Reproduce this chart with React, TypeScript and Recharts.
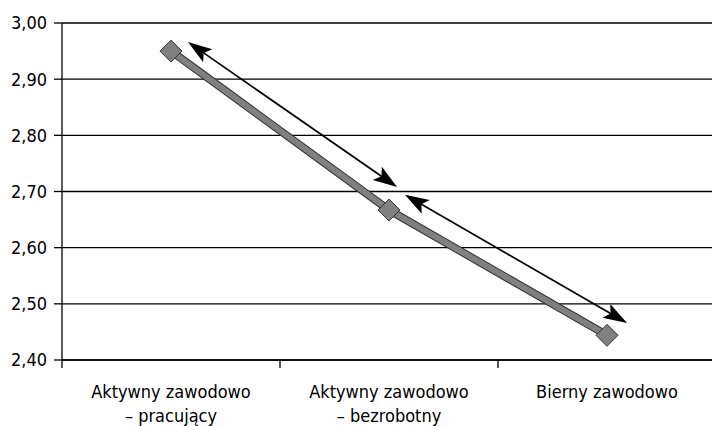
import React from 'react';
import { LineChart, Line, XAxis, YAxis, CartesianGrid, ReferenceLine } from 'recharts';

const categories: string[][] = [
  ['Aktywny zawodowo', '– pracujący'],
  ['Aktywny zawodowo', '– bezrobotny'],
  ['Bierny zawodowo'],
];
const values: number[] = [2.95, 2.667, 2.444];
const yTicks: number[] = [2.4, 2.5, 2.6, 2.7, 2.8, 2.9, 3.0];
const xTicks: number[] = [0, 0.5, 1, 1.5, 2, 2.5, 3];
// double-headed annotation arrows (data coordinates)
const arrowsFrom: { x: number; y: number }[] = [
  { x: 0.578, y: 2.966 },
  { x: 1.573, y: 2.694 },
];
const arrowsTo: { x: number; y: number }[] = [
  { x: 1.537, y: 2.708 },
  { x: 2.592, y: 2.466 },
];

const data = categories.map((c, i) => ({ x: i + 0.5, value: values[i] }));

const FONT = "'DejaVu Sans Condensed', 'DejaVu Sans', sans-serif";
const FS = 18;

const Diamond = (props: any) => {
  const { cx, cy } = props;
  if (cx == null || cy == null) return null;
  const r = 11;
  return (
    <polygon
      points={`${cx},${cy - r} ${cx + r},${cy} ${cx},${cy + r} ${cx - r},${cy}`}
      fill="#808080"
      stroke="#333"
      strokeWidth={1}
    />
  );
};

const XTick = (props: any) => {
  const { x, y, payload } = props;
  const v = payload.value as number;
  const axisY = y - 10;
  if (Number.isInteger(v)) {
    return <line x1={x} y1={axisY} x2={x} y2={axisY + 8} stroke="#000" strokeWidth={1.3} />;
  }
  const lines = categories[Math.floor(v)] || [];
  return (
    <g>
      {lines.map((t, i) => (
        <text
          key={i}
          x={x}
          y={axisY + 38 + i * 24}
          textAnchor="middle"
          fill="#000"
          fontSize={FS}
          style={{ fontFamily: FONT, fontStretch: 'condensed' }}
        >
          {t}
        </text>
      ))}
    </g>
  );
};

const ArrowShape = (props: any) => {
  const { x1, y1, x2, y2 } = props;
  if ([x1, y1, x2, y2].some((v) => v == null || isNaN(v))) return null;
  const dx = x2 - x1;
  const dy = y2 - y1;
  const len = Math.sqrt(dx * dx + dy * dy);
  const ux = dx / len;
  const uy = dy / len;
  const px = -uy;
  const py = ux;
  const L = 24;
  const W = 8;
  const N = 19;
  const head = (tx: number, ty: number, sx: number, sy: number) => {
    const bx = tx - sx * L;
    const by = ty - sy * L;
    const nx = tx - sx * N;
    const ny = ty - sy * N;
    return `${tx},${ty} ${bx + px * W},${by + py * W} ${nx},${ny} ${bx - px * W},${by - py * W}`;
  };
  return (
    <g>
      <line
        x1={x1 + ux * N}
        y1={y1 + uy * N}
        x2={x2 - ux * N}
        y2={y2 - uy * N}
        stroke="#000"
        strokeWidth={1.7}
      />
      <polygon points={head(x1, y1, -ux, -uy)} fill="#000" />
      <polygon points={head(x2, y2, ux, uy)} fill="#000" />
    </g>
  );
};

const fmt = (v: number) => v.toFixed(2).replace('.', ',');

export default function App() {
  return (
    <div
      style={{
        position: 'absolute',
        left: 0,
        top: 0,
        width: 712,
        height: 426,
        overflow: 'hidden',
        background: '#fff',
        fontFamily: FONT,
        fontStretch: 'condensed',
      }}
    >
      <LineChart width={720} height={426} data={data} margin={{ top: 23, right: 4, bottom: 0, left: 0 }}>
        <CartesianGrid vertical={false} stroke="#000" strokeOpacity={1} strokeWidth={1.3} />
        <XAxis
          dataKey="x"
          type="number"
          domain={[0, 3]}
          ticks={xTicks}
          interval={0}
          height={66}
          tickLine={false}
          tickSize={8}
          tickMargin={2}
          axisLine={{ stroke: '#000', strokeWidth: 1.3 }}
          tick={<XTick />}
        />
        <YAxis
          width={62}
          domain={[2.4, 3.0]}
          ticks={yTicks}
          interval={0}
          tickFormatter={fmt}
          tickSize={8}
          tickMargin={7}
          axisLine={{ stroke: '#000', strokeWidth: 1.3 }}
          tickLine={{ stroke: '#000', strokeWidth: 1.3 }}
          tick={{ fill: '#000', fontSize: FS, style: { fontFamily: FONT, fontStretch: 'condensed' } } as any}
        />
        <Line
          dataKey="value"
          stroke="#333"
          strokeWidth={8}
          dot={false}
          activeDot={false}
          isAnimationActive={false}
        />
        <Line
          dataKey="value"
          stroke="#808080"
          strokeWidth={6}
          dot={<Diamond />}
          activeDot={false}
          isAnimationActive={false}
        />
        {arrowsFrom.map((a, i) => (
          <ReferenceLine
            key={i}
            segment={[a, arrowsTo[i]]}
            ifOverflow="visible"
            shape={<ArrowShape />}
          />
        ))}
      </LineChart>
    </div>
  );
}
